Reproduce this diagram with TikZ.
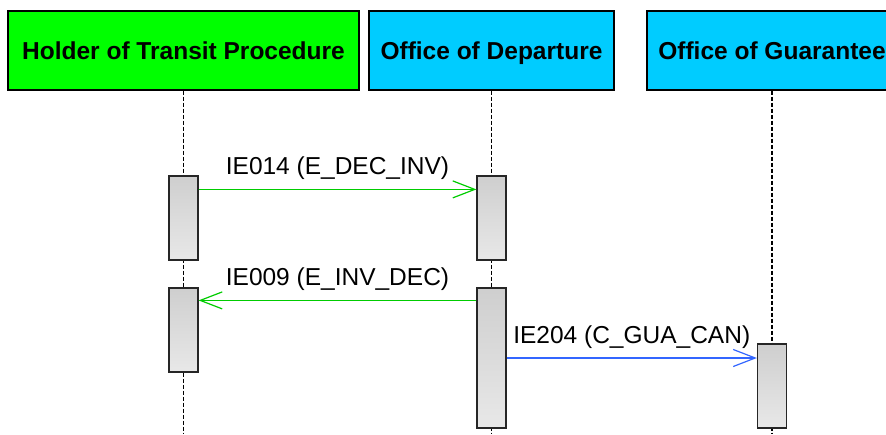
\documentclass[tikz,border=0pt]{standalone}
\usepackage{fontspec}
\setmainfont{Liberation Sans}
\usepackage{xcolor}
\definecolor{hdrgreen}{RGB}{0,255,0}
\definecolor{hdrcyan}{RGB}{0,204,255}
\definecolor{msggreen}{RGB}{0,204,0}
\definecolor{msgblue}{RGB}{51,102,255}
\usetikzlibrary{arrows.meta, positioning}

\tikzset{
  hdr/.style={draw=black, line width=1.3pt, minimum height=79pt, inner sep=0pt,
    text height=17.8pt, text depth=0pt, font=\fontsize{24.5}{28}\selectfont\bfseries},
  actbox/.style={draw=black!85, line width=1.2pt, top color=black!19, bottom color=black!9,
    minimum width=29pt, inner sep=0pt},
  lifeline/.style={line width=1.1pt, dash pattern=on 4pt off 2pt},
  msg/.style={line width=1.2pt, -{Straight Barb[length=22pt, width=17pt]}},
  msglabel/.style={font=\fontsize{24.5}{28}\selectfont, midway, above=6pt}
}

\begin{document}
\begin{tikzpicture}[x=1pt, y=-1pt]
  \useasboundingbox (0,0) rectangle (886,434);

  % Headers
  \node[hdr, fill=hdrgreen, minimum width=351pt] (holder) at (183.5,50.5) {Holder of Transit Procedure};
  \node[hdr, fill=hdrcyan, minimum width=245pt] (departure) at (491.5,50.5) {Office of Departure};
  \node[hdr, fill=hdrcyan, minimum width=250pt] (guarantee) at (772,50.5) {Office of Guarantee};

  % Lifelines
  \coordinate (holderend) at (holder.south |- 0,434);
  \coordinate (departureend) at (departure.south |- 0,434);
  \coordinate (guaranteeend) at (guarantee.south |- 0,434);
  \draw[lifeline] (holder.south) -- (holderend);
  \draw[lifeline] (departure.south) -- (departureend);
  \draw[lifeline] (guarantee.south) -- (guaranteeend);

  % Activations
  \node[actbox, minimum height=84pt] (holderact1) at (183.5,218) {};
  \node[actbox, minimum height=84pt] (holderact2) at (183.5,330) {};
  \node[actbox, minimum height=84pt] (departureact1) at (491.5,218) {};
  \node[actbox, minimum height=140pt] (departureact2) at (491.5,358) {};
  \node[actbox, minimum height=84pt] (guaranteeact) at (772,386) {};

  % Messages
  \draw[msg, msggreen] ([yshift=-14pt]holderact1.north east) -- ([yshift=-14pt]departureact1.north west)
    node[msglabel, black] (ie014) {IE014 (E\_DEC\_INV)};
  \draw[msg, msggreen] ([yshift=-13pt]departureact2.north west) -- ([yshift=-13pt]holderact2.north east)
    node[msglabel, black] (ie009) {IE009 (E\_INV\_DEC)};
  \draw[msg, msgblue] (departureact2.east) -- (departureact2.east -| guaranteeact.west)
    node[msglabel, black] (ie204) {IE204 (C\_GUA\_CAN)};
\end{tikzpicture}
\end{document}
